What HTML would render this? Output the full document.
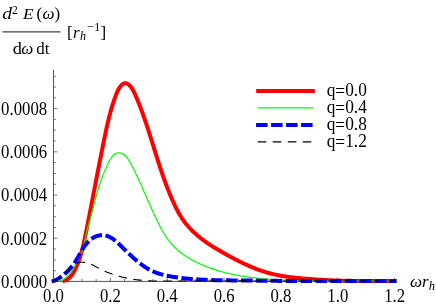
<!DOCTYPE html>
<html><head><meta charset="utf-8"><style>
html,body{margin:0;padding:0;background:#fff;}
svg{display:block;will-change:transform;}
text{font-family:"Liberation Serif",serif;font-size:17px;fill:#000;}
.i{font-style:italic;}
</style></head><body>
<svg width="436" height="306" viewBox="0 0 436 306">
<rect width="436" height="306" fill="#fff"/>
<!-- title -->
<g id="title">
<text id="t_d" transform="translate(2.2,18.5) scale(1.15,1.02)" class="i">d</text>
<text id="t_2" x="12.0" y="13.9" style="font-size:11.5px">2</text>
<text id="t_E" transform="translate(23.1,18.5) scale(1.12,1)" class="i" style="font-size:15.5px">E</text>
<text id="t_lp" x="36.6" y="18.5">(</text>
<text id="t_w" x="42.5" y="18.5" class="i">ω</text>
<text id="t_rp" x="54.5" y="18.5">)</text>
<line x1="2.5" y1="31.8" x2="60.5" y2="31.8" stroke="#444" stroke-width="1.2"/>
<text id="t_d1" transform="translate(12.7,54.4) scale(1.08,1)">d</text>
<text id="t_w1" x="21.3" y="54.4" class="i">ω</text>
<text id="t_dt" x="36.2" y="54.4">dt</text>
<text id="t_lb" x="67" y="37.5">[</text>
<text id="t_r" x="73" y="37.5" class="i">r</text>
<text id="t_h" x="80" y="39.8" class="i" style="font-size:12px">h</text>
<text id="t_m" x="86.8" y="30.8" style="font-size:12.5px">−</text>
<text id="t_1" x="94.2" y="30.5" style="font-size:12px">1</text>
<text id="t_rb" x="100.5" y="37.5">]</text>
</g>
<!-- axes -->
<g stroke="#555" stroke-width="1" fill="none">
<line x1="53.5" y1="69.8" x2="53.5" y2="281.9"/>
<line x1="53.0" y1="281.4" x2="395.2" y2="281.4"/>
</g>
<g stroke="#555" stroke-width="0.8" fill="none">
<line x1="53.50" y1="281.4" x2="53.50" y2="277.60"/>
<line x1="67.72" y1="281.4" x2="67.72" y2="279.00"/>
<line x1="81.93" y1="281.4" x2="81.93" y2="279.00"/>
<line x1="96.15" y1="281.4" x2="96.15" y2="279.00"/>
<line x1="110.36" y1="281.4" x2="110.36" y2="277.60"/>
<line x1="124.58" y1="281.4" x2="124.58" y2="279.00"/>
<line x1="138.79" y1="281.4" x2="138.79" y2="279.00"/>
<line x1="153.00" y1="281.4" x2="153.00" y2="279.00"/>
<line x1="167.22" y1="281.4" x2="167.22" y2="277.60"/>
<line x1="181.44" y1="281.4" x2="181.44" y2="279.00"/>
<line x1="195.65" y1="281.4" x2="195.65" y2="279.00"/>
<line x1="209.87" y1="281.4" x2="209.87" y2="279.00"/>
<line x1="224.08" y1="281.4" x2="224.08" y2="277.60"/>
<line x1="238.30" y1="281.4" x2="238.30" y2="279.00"/>
<line x1="252.51" y1="281.4" x2="252.51" y2="279.00"/>
<line x1="266.73" y1="281.4" x2="266.73" y2="279.00"/>
<line x1="280.94" y1="281.4" x2="280.94" y2="277.60"/>
<line x1="295.16" y1="281.4" x2="295.16" y2="279.00"/>
<line x1="309.37" y1="281.4" x2="309.37" y2="279.00"/>
<line x1="323.59" y1="281.4" x2="323.59" y2="279.00"/>
<line x1="337.80" y1="281.4" x2="337.80" y2="277.60"/>
<line x1="352.02" y1="281.4" x2="352.02" y2="279.00"/>
<line x1="366.23" y1="281.4" x2="366.23" y2="279.00"/>
<line x1="380.45" y1="281.4" x2="380.45" y2="279.00"/>
<line x1="394.66" y1="281.4" x2="394.66" y2="277.60"/>
<line x1="53.5" y1="281.50" x2="57.30" y2="281.50"/>
<line x1="53.5" y1="270.69" x2="55.90" y2="270.69"/>
<line x1="53.5" y1="259.89" x2="55.90" y2="259.89"/>
<line x1="53.5" y1="249.08" x2="55.90" y2="249.08"/>
<line x1="53.5" y1="238.28" x2="57.30" y2="238.28"/>
<line x1="53.5" y1="227.47" x2="55.90" y2="227.47"/>
<line x1="53.5" y1="216.67" x2="55.90" y2="216.67"/>
<line x1="53.5" y1="205.86" x2="55.90" y2="205.86"/>
<line x1="53.5" y1="195.06" x2="57.30" y2="195.06"/>
<line x1="53.5" y1="184.25" x2="55.90" y2="184.25"/>
<line x1="53.5" y1="173.45" x2="55.90" y2="173.45"/>
<line x1="53.5" y1="162.64" x2="55.90" y2="162.64"/>
<line x1="53.5" y1="151.84" x2="57.30" y2="151.84"/>
<line x1="53.5" y1="141.03" x2="55.90" y2="141.03"/>
<line x1="53.5" y1="130.23" x2="55.90" y2="130.23"/>
<line x1="53.5" y1="119.42" x2="55.90" y2="119.42"/>
<line x1="53.5" y1="108.62" x2="57.30" y2="108.62"/>
<line x1="53.5" y1="97.81" x2="55.90" y2="97.81"/>
<line x1="53.5" y1="87.01" x2="55.90" y2="87.01"/>
<line x1="53.5" y1="76.20" x2="55.90" y2="76.20"/>
</g>
<g id="xl">
<text transform="translate(53.50,301.6) scale(0.985,1.08)" text-anchor="middle">0.0</text>
<text transform="translate(110.36,301.6) scale(0.985,1.08)" text-anchor="middle">0.2</text>
<text transform="translate(167.22,301.6) scale(0.985,1.08)" text-anchor="middle">0.4</text>
<text transform="translate(224.08,301.6) scale(0.985,1.08)" text-anchor="middle">0.6</text>
<text transform="translate(280.94,301.6) scale(0.985,1.08)" text-anchor="middle">0.8</text>
<text transform="translate(337.80,301.6) scale(0.985,1.08)" text-anchor="middle">1.0</text>
<text transform="translate(394.66,301.6) scale(0.985,1.08)" text-anchor="middle">1.2</text>
</g>
<g id="yl">
<text transform="translate(47.2,287.75) scale(0.986,1.07)" text-anchor="end">0.0000</text>
<text transform="translate(47.2,244.53) scale(0.986,1.07)" text-anchor="end">0.0002</text>
<text transform="translate(47.2,201.31) scale(0.986,1.07)" text-anchor="end">0.0004</text>
<text transform="translate(47.2,158.09) scale(0.986,1.07)" text-anchor="end">0.0006</text>
<text transform="translate(47.2,114.87) scale(0.986,1.07)" text-anchor="end">0.0008</text>
</g>
<text id="t_wr" x="409.9" y="286.8" class="i">ωr</text>
<text id="t_wh" x="428.7" y="289.9" class="i" style="font-size:12.5px">h</text>
<!-- curves -->
<g fill="none" stroke-linecap="square" stroke-linejoin="round">
<path d="M62.71,281.00 L63.73,280.91 L64.71,280.61 L65.63,280.24 L66.51,279.82 L67.34,279.33 L68.13,278.79 L68.88,278.20 L69.59,277.56 L70.27,276.88 L70.92,276.16 L71.53,275.40 L72.11,274.61 L72.67,273.80 L73.20,272.96 L73.71,272.09 L74.20,271.22 L74.67,270.33 L75.12,269.43 L75.56,268.53 L75.99,267.62 L76.41,266.71 L76.81,265.79 L77.20,264.88 L77.58,263.96 L77.95,263.04 L78.31,262.11 L78.65,261.18 L78.99,260.25 L79.32,259.32 L79.64,258.39 L79.95,257.45 L80.25,256.51 L80.54,255.57 L80.83,254.63 L81.11,253.68 L81.37,252.73 L81.64,251.78 L81.89,250.83 L82.14,249.88 L82.39,248.93 L82.63,247.97 L82.86,247.01 L83.09,246.05 L83.31,245.09 L83.53,244.13 L83.75,243.17 L83.96,242.21 L84.17,241.25 L84.37,240.28 L84.57,239.32 L84.78,238.35 L84.97,237.38 L85.17,236.42 L85.37,235.45 L85.56,234.48 L85.76,233.51 L85.95,232.55 L86.15,231.58 L86.34,230.61 L86.53,229.64 L86.73,228.67 L86.92,227.70 L87.11,226.73 L87.31,225.76 L87.50,224.79 L87.69,223.82 L87.88,222.85 L88.07,221.88 L88.26,220.91 L88.45,219.94 L88.64,218.97 L88.83,218.00 L89.02,217.03 L89.21,216.06 L89.40,215.09 L89.59,214.12 L89.78,213.15 L89.97,212.18 L90.16,211.21 L90.35,210.24 L90.54,209.26 L90.73,208.29 L90.91,207.32 L91.10,206.35 L91.29,205.38 L91.48,204.41 L91.67,203.43 L91.85,202.46 L92.04,201.49 L92.23,200.52 L92.42,199.55 L92.60,198.58 L92.79,197.60 L92.98,196.63 L93.16,195.66 L93.35,194.69 L93.54,193.72 L93.72,192.74 L93.91,191.77 L94.10,190.80 L94.29,189.83 L94.47,188.85 L94.66,187.88 L94.85,186.91 L95.03,185.94 L95.22,184.97 L95.41,184.00 L95.59,183.02 L95.78,182.05 L95.97,181.08 L96.16,180.11 L96.34,179.14 L96.53,178.17 L96.72,177.19 L96.90,176.22 L97.09,175.25 L97.28,174.28 L97.47,173.31 L97.66,172.34 L97.84,171.37 L98.03,170.40 L98.22,169.42 L98.41,168.45 L98.60,167.48 L98.79,166.51 L98.98,165.54 L99.17,164.57 L99.35,163.60 L99.54,162.63 L99.73,161.66 L99.92,160.69 L100.11,159.72 L100.30,158.75 L100.50,157.79 L100.69,156.82 L100.88,155.85 L101.07,154.88 L101.26,153.91 L101.45,152.94 L101.65,151.97 L101.84,151.01 L102.03,150.04 L102.22,149.07 L102.42,148.10 L102.61,147.14 L102.81,146.17 L103.00,145.20 L103.20,144.24 L103.39,143.27 L103.59,142.30 L103.78,141.34 L103.98,140.37 L104.18,139.41 L104.37,138.44 L104.57,137.48 L104.77,136.51 L104.97,135.55 L105.17,134.59 L105.37,133.62 L105.57,132.66 L105.78,131.70 L105.98,130.73 L106.19,129.77 L106.40,128.81 L106.61,127.85 L106.82,126.89 L107.04,125.93 L107.26,124.97 L107.48,124.01 L107.70,123.05 L107.92,122.09 L108.15,121.13 L108.38,120.17 L108.61,119.21 L108.85,118.25 L109.09,117.30 L109.33,116.34 L109.58,115.39 L109.83,114.43 L110.08,113.47 L110.34,112.52 L110.60,111.57 L110.87,110.61 L111.14,109.66 L111.42,108.71 L111.70,107.76 L111.98,106.80 L112.27,105.85 L112.56,104.90 L112.86,103.95 L113.17,103.01 L113.48,102.06 L113.79,101.11 L114.11,100.16 L114.44,99.22 L114.77,98.27 L115.11,97.33 L115.45,96.38 L115.80,95.44 L116.16,94.50 L116.52,93.56 L116.91,92.62 L117.30,91.69 L117.73,90.78 L118.18,89.88 L118.67,89.00 L119.19,88.13 L119.76,87.30 L120.38,86.48 L121.04,85.70 L121.76,84.97 L122.52,84.32 L123.32,83.78 L124.13,83.39 L124.96,83.18 L125.80,83.18 L126.63,83.39 L127.46,83.77 L128.26,84.29 L129.03,84.92 L129.76,85.63 L130.45,86.38 L131.09,87.16 L131.68,87.97 L132.24,88.80 L132.75,89.65 L133.24,90.52 L133.71,91.41 L134.15,92.30 L134.57,93.21 L134.98,94.12 L135.38,95.03 L135.78,95.95 L136.18,96.87 L136.57,97.79 L136.95,98.71 L137.34,99.63 L137.72,100.55 L138.09,101.47 L138.47,102.39 L138.84,103.32 L139.20,104.24 L139.57,105.17 L139.93,106.10 L140.28,107.03 L140.64,107.95 L140.99,108.88 L141.34,109.81 L141.68,110.74 L142.03,111.68 L142.37,112.61 L142.71,113.54 L143.04,114.47 L143.37,115.41 L143.70,116.34 L144.03,117.28 L144.36,118.21 L144.68,119.15 L145.00,120.09 L145.32,121.02 L145.64,121.96 L145.96,122.90 L146.27,123.84 L146.58,124.78 L146.90,125.72 L147.20,126.66 L147.51,127.60 L147.82,128.54 L148.12,129.48 L148.43,130.42 L148.73,131.36 L149.03,132.30 L149.33,133.24 L149.63,134.19 L149.93,135.13 L150.23,136.07 L150.52,137.01 L150.82,137.95 L151.11,138.90 L151.41,139.84 L151.70,140.78 L151.99,141.72 L152.29,142.67 L152.58,143.61 L152.87,144.55 L153.16,145.49 L153.46,146.44 L153.75,147.38 L154.04,148.32 L154.33,149.26 L154.62,150.20 L154.92,151.15 L155.21,152.09 L155.50,153.03 L155.80,153.97 L156.09,154.91 L156.38,155.85 L156.68,156.79 L156.97,157.73 L157.27,158.67 L157.57,159.60 L157.87,160.54 L158.17,161.48 L158.47,162.42 L158.77,163.35 L159.07,164.29 L159.38,165.23 L159.68,166.16 L159.99,167.10 L160.30,168.03 L160.61,168.96 L160.92,169.90 L161.23,170.83 L161.55,171.76 L161.86,172.69 L162.18,173.62 L162.50,174.55 L162.82,175.48 L163.15,176.41 L163.48,177.34 L163.80,178.27 L164.14,179.19 L164.47,180.12 L164.80,181.05 L165.14,181.97 L165.48,182.90 L165.83,183.82 L166.17,184.75 L166.52,185.67 L166.87,186.59 L167.23,187.51 L167.59,188.44 L167.95,189.36 L168.31,190.28 L168.68,191.20 L169.05,192.12 L169.42,193.03 L169.80,193.95 L170.18,194.87 L170.56,195.79 L170.95,196.70 L171.34,197.62 L171.73,198.53 L172.13,199.45 L172.53,200.36 L172.93,201.28 L173.34,202.19 L173.76,203.10 L174.18,204.01 L174.60,204.91 L175.03,205.82 L175.47,206.72 L175.91,207.62 L176.35,208.51 L176.81,209.40 L177.27,210.29 L177.74,211.17 L178.21,212.04 L178.69,212.91 L179.18,213.78 L179.68,214.64 L180.19,215.49 L180.70,216.33 L181.23,217.17 L181.76,218.00 L182.31,218.82 L182.86,219.63 L183.42,220.43 L184.00,221.23 L184.58,222.01 L185.17,222.79 L185.78,223.56 L186.39,224.32 L187.01,225.07 L187.64,225.81 L188.28,226.54 L188.93,227.27 L189.59,227.99 L190.26,228.70 L190.93,229.40 L191.62,230.10 L192.31,230.78 L193.01,231.46 L193.71,232.14 L194.43,232.80 L195.15,233.46 L195.88,234.11 L196.61,234.76 L197.36,235.40 L198.11,236.03 L198.86,236.66 L199.62,237.27 L200.39,237.89 L201.17,238.49 L201.95,239.10 L202.73,239.69 L203.52,240.28 L204.32,240.87 L205.12,241.44 L205.93,242.02 L206.74,242.59 L207.55,243.15 L208.37,243.71 L209.20,244.26 L210.03,244.81 L210.86,245.36 L211.69,245.90 L212.53,246.43 L213.38,246.96 L214.22,247.49 L215.07,248.01 L215.92,248.53 L216.78,249.05 L217.64,249.56 L218.50,250.07 L219.36,250.57 L220.22,251.08 L221.09,251.58 L221.96,252.07 L222.83,252.57 L223.70,253.06 L224.57,253.54 L225.44,254.03 L226.31,254.51 L227.19,254.99 L228.06,255.47 L228.94,255.95 L229.81,256.42 L230.69,256.90 L231.56,257.36 L232.44,257.83 L233.32,258.30 L234.20,258.76 L235.08,259.22 L235.96,259.67 L236.84,260.12 L237.72,260.57 L238.60,261.02 L239.49,261.46 L240.37,261.90 L241.26,262.33 L242.15,262.76 L243.04,263.19 L243.93,263.61 L244.82,264.03 L245.71,264.44 L246.61,264.85 L247.50,265.25 L248.40,265.65 L249.30,266.05 L250.20,266.44 L251.10,266.82 L252.01,267.20 L252.91,267.57 L253.82,267.94 L254.73,268.30 L255.64,268.66 L256.55,269.01 L257.47,269.36 L258.39,269.70 L259.31,270.03 L260.23,270.36 L261.16,270.68 L262.08,270.99 L263.01,271.30 L263.94,271.60 L264.88,271.89 L265.81,272.18 L266.75,272.46 L267.70,272.73 L268.64,272.99 L269.59,273.25 L270.54,273.50 L271.49,273.74 L272.45,273.98 L273.40,274.20 L274.36,274.42 L275.33,274.64 L276.29,274.84 L277.26,275.04 L278.23,275.24 L279.20,275.42 L280.17,275.60 L281.15,275.78 L282.13,275.95 L283.11,276.11 L284.09,276.27 L285.07,276.42 L286.05,276.57 L287.04,276.72 L288.02,276.85 L289.01,276.99 L290.00,277.12 L290.98,277.24 L291.97,277.36 L292.96,277.48 L293.96,277.59 L294.95,277.70 L295.94,277.81 L296.93,277.91 L297.92,278.01 L298.92,278.10 L299.91,278.20 L300.90,278.29 L301.90,278.38 L302.89,278.46 L303.88,278.55 L304.88,278.63 L305.87,278.71 L306.86,278.79 L307.85,278.86 L308.84,278.94 L309.83,279.01 L310.82,279.09 L311.81,279.16 L312.79,279.23 L313.78,279.30 L314.76,279.37 L315.75,279.43 L316.73,279.50 L317.72,279.57 L318.70,279.63 L319.68,279.69 L320.66,279.75 L321.65,279.81 L322.63,279.87 L323.61,279.93 L324.59,279.99 L325.57,280.04 L326.55,280.09 L327.53,280.15 L328.51,280.20 L329.50,280.24 L330.48,280.29 L331.46,280.34 L332.44,280.38 L333.42,280.42 L334.40,280.46 L335.38,280.50 L336.37,280.54 L337.35,280.57 L338.33,280.61 L339.32,280.64 L340.30,280.67 L341.29,280.69 L342.27,280.72 L343.26,280.74 L344.25,280.76 L345.23,280.78 L346.22,280.80 L347.21,280.82 L348.20,280.84 L349.19,280.85 L350.18,280.86 L351.17,280.87 L352.16,280.88 L353.15,280.89 L354.14,280.90 L355.13,280.91 L356.12,280.91 L357.11,280.92 L358.10,280.92 L359.09,280.93 L360.09,280.93 L361.08,280.93 L362.07,280.93 L363.06,280.93 L364.05,280.93 L365.05,280.93 L366.04,280.93 L367.03,280.93 L368.02,280.93 L369.01,280.93 L370.01,280.93 L371.00,280.93 L371.99,280.93 L372.98,280.92 L373.97,280.92 L374.96,280.92 L375.95,280.92 L376.94,280.92 L377.93,280.92 L378.92,280.92 L379.91,280.92 L380.90,280.92 L381.89,280.92 L382.87,280.93 L383.86,280.93 L384.85,280.93 L385.83,280.94 L386.82,280.94 L387.80,280.95 L388.79,280.96 L389.77,280.97 L390.76,280.98 L391.74,280.99 L392.72,281.00 L393.70,281.00 L394.68,281.00" stroke="#f00" stroke-width="4" stroke-linecap="butt"/>
<path d="M59.50,281.00 L60.29,280.80 L61.07,280.51 L61.82,280.18 L62.55,279.83 L63.25,279.44 L63.94,279.03 L64.61,278.58 L65.26,278.11 L65.89,277.62 L66.50,277.10 L67.10,276.56 L67.68,276.00 L68.25,275.42 L68.80,274.82 L69.33,274.21 L69.85,273.59 L70.36,272.95 L70.86,272.30 L71.34,271.63 L71.81,270.97 L72.27,270.29 L72.73,269.61 L73.17,268.92 L73.60,268.23 L74.03,267.54 L74.44,266.84 L74.85,266.14 L75.25,265.43 L75.65,264.72 L76.04,264.01 L76.42,263.30 L76.80,262.58 L77.17,261.87 L77.54,261.15 L77.91,260.43 L78.27,259.71 L78.63,258.99 L78.99,258.27 L79.35,257.55 L79.70,256.84 L80.06,256.12 L80.41,255.40 L80.76,254.68 L81.09,253.96 L81.42,253.24 L81.73,252.50 L82.02,251.76 L82.30,251.02 L82.56,250.27 L82.81,249.51 L83.05,248.75 L83.27,247.98 L83.48,247.20 L83.69,246.43 L83.88,245.64 L84.06,244.86 L84.24,244.07 L84.41,243.28 L84.58,242.49 L84.74,241.69 L84.90,240.89 L85.05,240.09 L85.21,239.30 L85.36,238.50 L85.51,237.70 L85.66,236.90 L85.82,236.10 L85.98,235.30 L86.14,234.50 L86.31,233.71 L86.48,232.91 L86.66,232.12 L86.84,231.33 L87.03,230.55 L87.22,229.76 L87.42,228.97 L87.62,228.19 L87.82,227.41 L88.03,226.63 L88.24,225.84 L88.45,225.06 L88.67,224.28 L88.88,223.50 L89.10,222.72 L89.32,221.94 L89.54,221.16 L89.76,220.38 L89.98,219.60 L90.20,218.82 L90.42,218.04 L90.64,217.26 L90.86,216.47 L91.08,215.69 L91.30,214.90 L91.51,214.11 L91.73,213.32 L91.94,212.53 L92.15,211.74 L92.36,210.95 L92.57,210.16 L92.78,209.36 L92.99,208.57 L93.20,207.77 L93.40,206.98 L93.61,206.18 L93.82,205.38 L94.02,204.59 L94.23,203.79 L94.43,202.99 L94.64,202.20 L94.85,201.40 L95.05,200.61 L95.26,199.81 L95.47,199.02 L95.68,198.23 L95.89,197.43 L96.10,196.64 L96.31,195.85 L96.52,195.06 L96.74,194.28 L96.95,193.49 L97.17,192.71 L97.39,191.93 L97.61,191.14 L97.84,190.37 L98.06,189.59 L98.29,188.82 L98.52,188.04 L98.76,187.27 L98.99,186.51 L99.23,185.74 L99.47,184.98 L99.72,184.22 L99.96,183.47 L100.21,182.72 L100.47,181.97 L100.73,181.22 L100.99,180.48 L101.25,179.74 L101.52,179.00 L101.79,178.27 L102.07,177.54 L102.35,176.81 L102.64,176.08 L102.92,175.35 L103.22,174.62 L103.51,173.89 L103.81,173.16 L104.12,172.43 L104.43,171.69 L104.74,170.95 L105.06,170.21 L105.38,169.47 L105.70,168.72 L106.03,167.96 L106.37,167.20 L106.71,166.43 L107.05,165.66 L107.40,164.88 L107.75,164.09 L108.11,163.30 L108.48,162.51 L108.86,161.73 L109.26,160.96 L109.66,160.20 L110.08,159.46 L110.52,158.74 L110.97,158.04 L111.45,157.37 L111.95,156.73 L112.47,156.13 L113.01,155.56 L113.58,155.04 L114.18,154.56 L114.81,154.13 L115.47,153.76 L116.16,153.44 L116.86,153.19 L117.58,153.01 L118.32,152.90 L119.06,152.87 L119.80,152.92 L120.54,153.05 L121.27,153.25 L121.99,153.52 L122.69,153.86 L123.37,154.27 L124.02,154.73 L124.65,155.23 L125.26,155.78 L125.84,156.37 L126.38,156.98 L126.91,157.62 L127.41,158.28 L127.90,158.97 L128.36,159.67 L128.81,160.38 L129.25,161.11 L129.68,161.84 L130.10,162.57 L130.52,163.30 L130.93,164.03 L131.33,164.76 L131.73,165.49 L132.12,166.21 L132.51,166.94 L132.90,167.67 L133.27,168.39 L133.65,169.12 L134.02,169.85 L134.39,170.57 L134.75,171.30 L135.11,172.02 L135.47,172.75 L135.82,173.47 L136.17,174.19 L136.52,174.92 L136.86,175.64 L137.21,176.37 L137.55,177.09 L137.88,177.82 L138.22,178.54 L138.55,179.27 L138.88,180.00 L139.21,180.72 L139.54,181.45 L139.87,182.18 L140.20,182.91 L140.52,183.64 L140.85,184.37 L141.17,185.10 L141.50,185.84 L141.82,186.57 L142.15,187.30 L142.47,188.04 L142.79,188.78 L143.12,189.51 L143.44,190.25 L143.77,190.99 L144.09,191.73 L144.41,192.47 L144.74,193.21 L145.06,193.95 L145.39,194.70 L145.71,195.44 L146.04,196.18 L146.36,196.93 L146.69,197.67 L147.02,198.41 L147.34,199.16 L147.67,199.90 L148.00,200.65 L148.33,201.39 L148.66,202.14 L148.98,202.88 L149.31,203.63 L149.64,204.37 L149.98,205.12 L150.31,205.86 L150.64,206.61 L150.97,207.35 L151.31,208.10 L151.64,208.84 L151.98,209.58 L152.31,210.33 L152.65,211.07 L152.99,211.81 L153.33,212.55 L153.67,213.29 L154.01,214.03 L154.35,214.77 L154.70,215.51 L155.04,216.25 L155.39,216.99 L155.73,217.72 L156.08,218.46 L156.43,219.19 L156.78,219.93 L157.14,220.66 L157.49,221.39 L157.85,222.12 L158.21,222.84 L158.57,223.57 L158.93,224.29 L159.30,225.01 L159.67,225.73 L160.05,226.45 L160.42,227.17 L160.80,227.88 L161.19,228.59 L161.58,229.29 L161.97,230.00 L162.37,230.70 L162.77,231.40 L163.18,232.09 L163.59,232.78 L164.01,233.47 L164.43,234.16 L164.86,234.84 L165.29,235.51 L165.73,236.19 L166.18,236.86 L166.63,237.52 L167.09,238.18 L167.56,238.84 L168.03,239.49 L168.51,240.13 L169.00,240.78 L169.50,241.41 L170.00,242.04 L170.51,242.67 L171.03,243.29 L171.56,243.91 L172.09,244.52 L172.64,245.12 L173.19,245.72 L173.75,246.31 L174.32,246.89 L174.89,247.47 L175.47,248.04 L176.06,248.60 L176.66,249.15 L177.26,249.69 L177.87,250.23 L178.49,250.76 L179.11,251.28 L179.74,251.79 L180.37,252.30 L181.01,252.80 L181.66,253.29 L182.31,253.77 L182.96,254.25 L183.62,254.72 L184.29,255.18 L184.96,255.64 L185.64,256.09 L186.32,256.54 L187.01,256.98 L187.70,257.41 L188.39,257.83 L189.09,258.25 L189.79,258.66 L190.49,259.07 L191.20,259.47 L191.91,259.87 L192.63,260.26 L193.35,260.64 L194.07,261.02 L194.79,261.39 L195.52,261.76 L196.25,262.12 L196.98,262.48 L197.72,262.83 L198.45,263.18 L199.19,263.52 L199.93,263.86 L200.67,264.19 L201.41,264.52 L202.16,264.85 L202.90,265.17 L203.65,265.48 L204.40,265.79 L205.15,266.10 L205.90,266.40 L206.65,266.69 L207.41,266.99 L208.16,267.28 L208.92,267.56 L209.67,267.84 L210.43,268.11 L211.19,268.39 L211.96,268.65 L212.72,268.92 L213.48,269.17 L214.25,269.43 L215.01,269.68 L215.78,269.93 L216.55,270.17 L217.32,270.41 L218.09,270.64 L218.86,270.87 L219.64,271.10 L220.41,271.33 L221.19,271.55 L221.97,271.76 L222.74,271.98 L223.52,272.18 L224.30,272.39 L225.08,272.59 L225.86,272.79 L226.65,272.99 L227.43,273.18 L228.21,273.37 L229.00,273.55 L229.79,273.73 L230.57,273.91 L231.36,274.08 L232.15,274.26 L232.94,274.42 L233.73,274.59 L234.52,274.75 L235.32,274.91 L236.11,275.07 L236.90,275.22 L237.70,275.37 L238.49,275.52 L239.29,275.66 L240.08,275.80 L240.88,275.94 L241.68,276.08 L242.48,276.21 L243.28,276.34 L244.08,276.47 L244.88,276.59 L245.68,276.72 L246.48,276.84 L247.28,276.95 L248.09,277.07 L248.89,277.18 L249.69,277.29 L250.50,277.40 L251.30,277.50 L252.11,277.61 L252.91,277.71 L253.72,277.80 L254.53,277.90 L255.33,277.99 L256.14,278.08 L256.95,278.17 L257.76,278.26 L258.56,278.35 L259.37,278.43 L260.18,278.51 L260.99,278.59 L261.80,278.67 L262.61,278.74 L263.42,278.82 L264.23,278.89 L265.04,278.96 L265.85,279.03 L266.66,279.10 L267.47,279.16 L268.28,279.22 L269.10,279.29 L269.91,279.35 L270.72,279.41 L271.53,279.46 L272.34,279.52 L273.15,279.57 L273.96,279.63 L274.78,279.68 L275.59,279.73 L276.40,279.78 L277.21,279.83 L278.02,279.87 L278.83,279.92 L279.65,279.96 L280.46,280.01 L281.27,280.05 L282.08,280.09 L282.89,280.13 L283.70,280.17 L284.51,280.21 L285.32,280.24 L286.14,280.28 L286.95,280.32 L287.76,280.35 L288.57,280.38 L289.38,280.41 L290.19,280.45 L291.00,280.48 L291.81,280.51 L292.62,280.53 L293.43,280.56 L294.24,280.59 L295.05,280.61 L295.86,280.64 L296.67,280.66 L297.48,280.69 L298.29,280.71 L299.10,280.73 L299.91,280.75 L300.72,280.77 L301.53,280.79 L302.34,280.81 L303.15,280.82 L303.96,280.84 L304.77,280.86 L305.58,280.87 L306.39,280.89 L307.20,280.90 L308.01,280.91 L308.82,280.93 L309.63,280.94 L310.44,280.95 L311.25,280.96 L312.06,280.97 L312.87,280.98 L313.68,280.99 L314.49,281.00 L315.30,281.00 L316.11,281.00 L316.91,281.00 L317.72,281.00 L318.53,281.00 L319.34,281.00 L320.15,281.00 L320.96,281.00 L321.77,281.00 L322.58,281.00 L323.39,281.00 L324.20,281.00 L325.01,281.00 L325.82,281.00 L326.63,281.00 L327.44,281.00 L328.25,281.00 L329.05,281.00 L329.86,281.00 L330.67,281.00 L331.48,281.00 L332.29,281.00 L333.10,281.00 L333.91,281.00 L334.72,281.00 L335.53,281.00 L336.34,281.00 L337.15,281.00 L337.96,281.00 L338.77,281.00 L339.58,281.00 L340.39,281.00 L341.19,281.00 L342.00,281.00 L342.81,281.00 L343.62,281.00 L344.43,281.00 L345.24,281.00 L346.05,281.00 L346.86,281.00 L347.67,281.00 L348.48,281.00 L349.29,280.99 L350.10,280.99 L350.91,280.98 L351.72,280.98 L352.53,280.97 L353.34,280.97 L354.15,280.97 L354.96,280.96 L355.77,280.96 L356.58,280.95 L357.39,280.95 L358.20,280.95 L359.01,280.94 L359.82,280.94 L360.63,280.93 L361.44,280.93 L362.25,280.93 L363.06,280.93 L363.87,280.92 L364.68,280.92 L365.50,280.92 L366.31,280.92 L367.12,280.91 L367.93,280.91 L368.74,280.91 L369.55,280.91 L370.36,280.91 L371.17,280.91 L371.98,280.91 L372.79,280.91 L373.61,280.91 L374.42,280.91 L375.23,280.91 L376.04,280.92 L376.85,280.92 L377.66,280.92 L378.48,280.92 L379.29,280.93 L380.10,280.93 L380.91,280.94 L381.72,280.94 L382.54,280.95 L383.35,280.95 L384.16,280.96 L384.97,280.97 L385.79,280.97 L386.60,280.98 L387.41,280.99 L388.22,281.00 L389.04,281.00 L389.85,281.00 L390.66,281.00 L391.48,281.00 L392.29,281.00 L393.10,281.00 L393.92,281.00 L394.73,281.00" stroke="#0f0" stroke-width="1.2" stroke-linecap="butt"/>
<path d="M53.56,281.00 L54.13,280.89 L54.69,280.61 L55.25,280.33 L55.80,280.04 L56.35,279.74 L56.89,279.44 L57.43,279.12 L57.97,278.81 L58.50,278.48 L59.03,278.15 L59.55,277.81 L60.07,277.46 L60.58,277.11 L61.09,276.75 L61.60,276.38 L62.10,276.01 L62.59,275.63 L63.08,275.24 L63.57,274.85 L64.05,274.46 L64.53,274.05 L65.00,273.64 L65.47,273.23 L65.93,272.81 L66.39,272.38 L66.84,271.95 L67.29,271.52 L67.73,271.07 L68.17,270.63 L68.60,270.17 L69.03,269.72 L69.46,269.25 L69.88,268.79 L70.29,268.32 L70.70,267.84 L71.10,267.36 L71.50,266.87 L71.90,266.38 L72.29,265.89 L72.67,265.39 L73.05,264.89 L73.42,264.38 L73.79,263.87 L74.15,263.36 L74.51,262.84 L74.87,262.32 L75.21,261.79 L75.56,261.27 L75.89,260.73 L76.23,260.20 L76.56,259.66 L76.88,259.12 L77.20,258.58 L77.52,258.04 L77.84,257.49 L78.15,256.95 L78.46,256.40 L78.78,255.85 L79.09,255.30 L79.40,254.75 L79.71,254.21 L80.02,253.66 L80.33,253.11 L80.64,252.56 L80.95,252.02 L81.27,251.47 L81.59,250.93 L81.91,250.39 L82.23,249.86 L82.56,249.32 L82.89,248.79 L83.22,248.26 L83.57,247.73 L83.91,247.21 L84.26,246.69 L84.62,246.18 L84.98,245.67 L85.35,245.17 L85.73,244.67 L86.12,244.17 L86.51,243.69 L86.91,243.20 L87.32,242.73 L87.74,242.26 L88.17,241.80 L88.61,241.34 L89.06,240.90 L89.53,240.46 L90.00,240.04 L90.48,239.63 L90.98,239.24 L91.49,238.86 L92.01,238.49 L92.55,238.14 L93.09,237.81 L93.65,237.50 L94.21,237.20 L94.79,236.92 L95.37,236.66 L95.96,236.42 L96.55,236.20 L97.15,236.00 L97.76,235.82 L98.36,235.66 L98.97,235.52 L99.58,235.40 L100.19,235.30 L100.80,235.23 L101.41,235.18 L102.02,235.15 L102.62,235.15 L103.22,235.17 L103.81,235.22 L104.40,235.29 L104.99,235.38 L105.57,235.50 L106.14,235.64 L106.71,235.80 L107.28,235.98 L107.84,236.18 L108.39,236.40 L108.94,236.64 L109.49,236.90 L110.03,237.17 L110.57,237.46 L111.10,237.76 L111.63,238.08 L112.16,238.42 L112.68,238.76 L113.20,239.12 L113.71,239.50 L114.22,239.88 L114.73,240.27 L115.23,240.67 L115.73,241.08 L116.22,241.50 L116.72,241.93 L117.21,242.36 L117.69,242.80 L118.17,243.25 L118.65,243.70 L119.13,244.15 L119.61,244.61 L120.08,245.06 L120.55,245.52 L121.01,245.99 L121.48,246.45 L121.94,246.91 L122.40,247.36 L122.85,247.82 L123.31,248.27 L123.76,248.72 L124.21,249.17 L124.66,249.62 L125.10,250.06 L125.55,250.49 L125.99,250.93 L126.44,251.36 L126.88,251.79 L127.32,252.22 L127.77,252.64 L128.21,253.07 L128.65,253.49 L129.09,253.91 L129.53,254.32 L129.98,254.74 L130.42,255.15 L130.87,255.56 L131.32,255.98 L131.76,256.38 L132.21,256.79 L132.67,257.20 L133.12,257.61 L133.58,258.01 L134.03,258.42 L134.50,258.82 L134.96,259.22 L135.43,259.63 L135.90,260.03 L136.37,260.43 L136.85,260.83 L137.33,261.23 L137.81,261.63 L138.30,262.03 L138.79,262.42 L139.28,262.82 L139.77,263.21 L140.27,263.59 L140.77,263.98 L141.28,264.36 L141.79,264.74 L142.30,265.11 L142.81,265.48 L143.33,265.85 L143.85,266.21 L144.37,266.56 L144.89,266.92 L145.42,267.26 L145.95,267.61 L146.49,267.94 L147.03,268.27 L147.57,268.60 L148.11,268.91 L148.66,269.22 L149.21,269.53 L149.76,269.83 L150.32,270.12 L150.88,270.40 L151.44,270.67 L152.00,270.94 L152.57,271.20 L153.14,271.46 L153.71,271.70 L154.29,271.94 L154.86,272.18 L155.44,272.40 L156.03,272.63 L156.61,272.84 L157.20,273.05 L157.79,273.25 L158.38,273.45 L158.97,273.64 L159.56,273.83 L160.16,274.01 L160.76,274.18 L161.36,274.35 L161.96,274.52 L162.57,274.68 L163.17,274.84 L163.78,274.99 L164.39,275.14 L165.00,275.28 L165.61,275.42 L166.22,275.55 L166.83,275.68 L167.45,275.81 L168.06,275.94 L168.68,276.06 L169.29,276.17 L169.91,276.29 L170.53,276.40 L171.15,276.51 L171.77,276.61 L172.39,276.72 L173.01,276.82 L173.63,276.91 L174.25,277.01 L174.87,277.10 L175.49,277.20 L176.12,277.29 L176.74,277.37 L177.36,277.46 L177.98,277.54 L178.60,277.63 L179.23,277.71 L179.85,277.79 L180.47,277.87 L181.09,277.94 L181.72,278.02 L182.34,278.09 L182.96,278.16 L183.58,278.23 L184.21,278.30 L184.83,278.37 L185.45,278.43 L186.08,278.50 L186.70,278.56 L187.33,278.62 L187.95,278.68 L188.57,278.74 L189.20,278.79 L189.82,278.85 L190.44,278.90 L191.07,278.96 L191.69,279.01 L192.32,279.06 L192.94,279.11 L193.57,279.15 L194.19,279.20 L194.81,279.24 L195.44,279.29 L196.06,279.33 L196.69,279.37 L197.31,279.41 L197.94,279.45 L198.56,279.49 L199.19,279.53 L199.81,279.56 L200.44,279.60 L201.06,279.63 L201.69,279.66 L202.32,279.69 L202.94,279.72 L203.57,279.75 L204.19,279.78 L204.82,279.81 L205.44,279.84 L206.07,279.86 L206.69,279.89 L207.32,279.91 L207.95,279.94 L208.57,279.96 L209.20,279.98 L209.82,280.00 L210.45,280.02 L211.08,280.04 L211.70,280.06 L212.33,280.08 L212.96,280.09 L213.58,280.11 L214.21,280.13 L214.83,280.14 L215.46,280.16 L216.09,280.17 L216.71,280.18 L217.34,280.20 L217.97,280.21 L218.59,280.22 L219.22,280.23 L219.85,280.24 L220.47,280.25 L221.10,280.26 L221.73,280.27 L222.35,280.28 L222.98,280.29 L223.61,280.30 L224.23,280.31 L224.86,280.32 L225.49,280.32 L226.11,280.33 L226.74,280.34 L227.37,280.34 L228.00,280.35 L228.62,280.36 L229.25,280.36 L229.88,280.37 L230.50,280.37 L231.13,280.38 L231.76,280.38 L232.38,280.39 L233.01,280.39 L233.64,280.40 L234.26,280.40 L234.89,280.41 L235.52,280.41 L236.15,280.42 L236.77,280.42 L237.40,280.43 L238.03,280.43 L238.65,280.44 L239.28,280.44 L239.91,280.45 L240.53,280.45 L241.16,280.46 L241.79,280.46 L242.41,280.47 L243.04,280.47 L243.67,280.48 L244.30,280.49 L244.92,280.49 L245.55,280.50 L246.18,280.51 L246.80,280.51 L247.43,280.52 L248.06,280.53 L248.68,280.53 L249.31,280.54 L249.94,280.55 L250.56,280.55 L251.19,280.56 L251.82,280.57 L252.44,280.57 L253.07,280.58 L253.70,280.59 L254.32,280.60 L254.95,280.60 L255.58,280.61 L256.20,280.62 L256.83,280.63 L257.46,280.63 L258.08,280.64 L258.71,280.65 L259.34,280.66 L259.96,280.66 L260.59,280.67 L261.22,280.68 L261.84,280.69 L262.47,280.70 L263.10,280.70 L263.72,280.71 L264.35,280.72 L264.98,280.73 L265.60,280.73 L266.23,280.74 L266.86,280.75 L267.48,280.76 L268.11,280.77 L268.74,280.77 L269.36,280.78 L269.99,280.79 L270.62,280.80 L271.24,280.80 L271.87,280.81 L272.49,280.82 L273.12,280.83 L273.75,280.83 L274.37,280.84 L275.00,280.85 L275.63,280.85 L276.25,280.86 L276.88,280.87 L277.51,280.87 L278.13,280.88 L278.76,280.89 L279.39,280.89 L280.01,280.90 L280.64,280.91 L281.27,280.91 L281.89,280.92 L282.52,280.93 L283.15,280.93 L283.77,280.94 L284.40,280.94 L285.03,280.95 L285.65,280.95 L286.28,280.96 L286.91,280.97 L287.53,280.97 L288.16,280.98 L288.79,280.98 L289.41,280.98 L290.04,280.99 L290.67,280.99 L291.29,281.00 L291.92,281.00 L292.55,281.00 L293.17,281.00 L293.80,281.00 L294.43,281.00 L295.05,281.00 L295.68,281.00 L296.31,281.00 L296.93,281.00 L297.56,281.00 L298.18,281.00 L298.81,281.00 L299.44,281.00 L300.06,281.00 L300.69,281.00 L301.32,281.00 L301.94,281.00 L302.57,281.00 L303.20,281.00 L303.82,281.00 L304.45,281.00 L305.08,281.00 L305.71,281.00 L306.33,281.00 L306.96,281.00 L307.59,281.00 L308.21,281.00 L308.84,281.00 L309.47,281.00 L310.09,281.00 L310.72,281.00 L311.35,281.00 L311.97,281.00 L312.60,281.00 L313.23,281.00 L313.85,281.00 L314.48,281.00 L315.11,281.00 L315.73,281.00 L316.36,281.00 L316.99,281.00 L317.61,281.00 L318.24,281.00 L318.87,281.00 L319.49,281.00 L320.12,281.00 L320.75,281.00 L321.37,281.00 L322.00,281.00 L322.63,281.00 L323.25,281.00 L323.88,281.00 L324.51,281.00 L325.13,281.00 L325.76,281.00 L326.39,281.00 L327.01,281.00 L327.64,281.00 L328.27,281.00 L328.89,281.00 L329.52,281.00 L330.15,281.00 L330.77,281.00 L331.40,281.00 L332.03,281.00 L332.66,281.00 L333.28,281.00 L333.91,281.00 L334.54,281.00 L335.16,281.00 L335.79,281.00 L336.42,281.00 L337.04,281.00 L337.67,281.00 L338.30,281.00 L338.92,281.00 L339.55,281.00 L340.18,281.00 L340.80,281.00 L341.43,281.00 L342.06,281.00 L342.68,281.00 L343.31,281.00 L343.94,281.00 L344.56,281.00 L345.19,280.99 L345.82,280.99 L346.44,280.99 L347.07,280.99 L347.70,280.99 L348.32,280.99 L348.95,280.98 L349.58,280.98 L350.20,280.98 L350.83,280.98 L351.46,280.98 L352.08,280.98 L352.71,280.97 L353.34,280.97 L353.97,280.97 L354.59,280.97 L355.22,280.97 L355.85,280.97 L356.47,280.97 L357.10,280.96 L357.73,280.96 L358.35,280.96 L358.98,280.96 L359.61,280.96 L360.23,280.96 L360.86,280.96 L361.49,280.96 L362.11,280.96 L362.74,280.96 L363.37,280.95 L363.99,280.95 L364.62,280.95 L365.25,280.95 L365.87,280.95 L366.50,280.95 L367.13,280.95 L367.75,280.95 L368.38,280.95 L369.01,280.95 L369.63,280.95 L370.26,280.95 L370.89,280.95 L371.51,280.95 L372.14,280.95 L372.77,280.95 L373.39,280.95 L374.02,280.96 L374.65,280.96 L375.27,280.96 L375.90,280.96 L376.53,280.96 L377.15,280.96 L377.78,280.96 L378.41,280.96 L379.03,280.96 L379.66,280.97 L380.29,280.97 L380.91,280.97 L381.54,280.97 L382.17,280.97 L382.79,280.98 L383.42,280.98 L384.05,280.98 L384.67,280.98 L385.30,280.99 L385.93,280.99 L386.55,280.99 L387.18,281.00 L387.81,281.00 L388.43,281.00 L389.06,281.00 L389.69,281.00 L390.31,281.00 L390.94,281.00 L391.57,281.00 L392.19,281.00 L392.82,281.00 L393.45,281.00 L394.07,281.00 L394.70,281.00" stroke="#00f" stroke-width="4" stroke-dasharray="7.45 7.45"/>
<path d="M53.50,280.92 L54.08,280.76 L54.64,280.59 L55.19,280.39 L55.73,280.18 L56.26,279.95 L56.78,279.70 L57.29,279.44 L57.79,279.16 L58.28,278.87 L58.77,278.56 L59.24,278.24 L59.71,277.90 L60.17,277.56 L60.63,277.20 L61.08,276.83 L61.53,276.45 L61.97,276.06 L62.40,275.67 L62.83,275.26 L63.26,274.85 L63.69,274.43 L64.11,274.00 L64.54,273.57 L64.96,273.13 L65.38,272.69 L65.80,272.25 L66.22,271.80 L66.64,271.36 L67.06,270.91 L67.49,270.46 L67.91,270.01 L68.34,269.57 L68.77,269.13 L69.20,268.69 L69.63,268.26 L70.07,267.84 L70.50,267.42 L70.95,267.02 L71.39,266.62 L71.84,266.24 L72.30,265.86 L72.76,265.50 L73.22,265.16 L73.69,264.83 L74.17,264.52 L74.65,264.22 L75.13,263.94 L75.63,263.68 L76.13,263.45 L76.63,263.23 L77.15,263.04 L77.67,262.87 L78.19,262.72 L78.72,262.59 L79.26,262.48 L79.80,262.40 L80.35,262.33 L80.90,262.29 L81.46,262.26 L82.01,262.25 L82.57,262.26 L83.14,262.29 L83.70,262.34 L84.27,262.40 L84.83,262.48 L85.40,262.57 L85.97,262.68 L86.53,262.81 L87.10,262.95 L87.66,263.10 L88.23,263.27 L88.79,263.45 L89.34,263.65 L89.90,263.86 L90.45,264.07 L90.99,264.30 L91.54,264.54 L92.08,264.79 L92.61,265.05 L93.15,265.32 L93.68,265.59 L94.21,265.86 L94.74,266.14 L95.27,266.43 L95.80,266.71 L96.33,267.00 L96.85,267.29 L97.38,267.57 L97.91,267.86 L98.44,268.14 L98.97,268.41 L99.50,268.69 L100.03,268.96 L100.56,269.22 L101.10,269.49 L101.63,269.75 L102.17,270.00 L102.70,270.25 L103.24,270.50 L103.78,270.75 L104.32,270.99 L104.86,271.23 L105.40,271.47 L105.95,271.70 L106.49,271.93 L107.03,272.15 L107.58,272.38 L108.12,272.59 L108.67,272.81 L109.22,273.02 L109.77,273.23 L110.32,273.44 L110.87,273.64 L111.42,273.84 L111.97,274.04 L112.53,274.23 L113.08,274.42 L113.63,274.61 L114.19,274.79 L114.74,274.97 L115.30,275.15 L115.86,275.32 L116.42,275.49 L116.98,275.66 L117.54,275.83 L118.10,275.99 L118.66,276.15 L119.22,276.31 L119.78,276.46 L120.34,276.61 L120.91,276.76 L121.47,276.90 L122.04,277.05 L122.60,277.18 L123.17,277.32 L123.73,277.45 L124.30,277.58 L124.87,277.71 L125.44,277.84 L126.00,277.96 L126.57,278.08 L127.14,278.19 L127.71,278.31 L128.28,278.42 L128.85,278.53 L129.43,278.63 L130.00,278.74 L130.57,278.84 L131.14,278.93 L131.72,279.03 L132.29,279.12 L132.86,279.21 L133.44,279.30 L134.01,279.38 L134.59,279.47 L135.17,279.55 L135.74,279.62 L136.32,279.70 L136.89,279.77 L137.47,279.84 L138.05,279.91 L138.63,279.98 L139.20,280.04 L139.78,280.10 L140.36,280.16 L140.94,280.22 L141.52,280.28 L142.10,280.33 L142.68,280.38 L143.26,280.43 L143.84,280.48 L144.42,280.52 L145.00,280.57 L145.58,280.61 L146.17,280.65 L146.75,280.69 L147.33,280.72 L147.91,280.76 L148.50,280.79 L149.08,280.82 L149.66,280.85 L150.24,280.88 L150.83,280.91 L151.41,280.93 L152.00,280.96 L152.58,280.98 L153.16,281.00 L153.75,281.00 L154.33,281.00 L154.92,281.00 L155.50,281.00 L156.09,281.00 L156.68,281.00 L157.26,281.00 L157.85,281.00 L158.43,281.00 L159.02,281.00 L159.61,281.00 L160.19,281.00 L160.78,281.00 L161.37,281.00 L161.95,281.00 L162.54,281.00 L163.13,281.00 L163.71,281.00 L164.30,281.00 L164.89,281.00 L165.48,281.00 L166.06,281.00 L166.65,281.00 L167.24,281.00 L167.83,281.00 L168.41,281.00 L169.00,281.00 L169.59,281.00 L170.18,281.00 L170.77,281.00 L171.35,281.00 L171.94,281.00 L172.53,281.00 L173.12,281.00 L173.71,281.00 L174.29,281.00 L174.88,281.00 L175.47,281.00 L176.06,281.00 L176.65,281.00 L177.23,281.00 L177.82,281.00 L178.41,281.00 L179.00,281.00 L179.58,281.00 L180.17,281.00 L180.76,281.00 L181.35,281.00 L181.94,281.00 L182.52,281.00 L183.11,281.00 L183.70,281.00 L184.29,281.00 L184.87,281.00 L185.46,281.00 L186.05,281.00 L186.64,281.00 L187.22,281.00 L187.81,281.00 L188.40,281.00 L188.99,281.00 L189.57,281.00 L190.16,281.00 L190.75,281.00 L191.34,281.00 L191.92,281.00 L192.51,281.00 L193.10,281.00 L193.69,281.00 L194.27,281.00 L194.86,281.00 L195.45,281.00 L196.03,281.00 L196.62,281.00 L197.21,281.00 L197.80,281.00 L198.38,281.00 L198.97,281.00 L199.56,281.00 L200.14,280.99 L200.73,280.99 L201.32,280.99 L201.91,280.99 L202.49,280.99 L203.08,280.98 L203.67,280.98 L204.25,280.98 L204.84,280.98 L205.43,280.97 L206.01,280.97 L206.60,280.97 L207.19,280.97 L207.77,280.97 L208.36,280.96 L208.95,280.96 L209.54,280.96 L210.12,280.96 L210.71,280.96 L211.30,280.96 L211.88,280.95 L212.47,280.95 L213.06,280.95 L213.64,280.95 L214.23,280.95 L214.82,280.95 L215.40,280.94 L215.99,280.94 L216.57,280.94 L217.16,280.94 L217.75,280.94 L218.33,280.94 L218.92,280.94 L219.51,280.94 L220.09,280.93 L220.68,280.93 L221.27,280.93 L221.85,280.93 L222.44,280.93 L223.03,280.93 L223.61,280.93 L224.20,280.93 L224.78,280.93 L225.37,280.93 L225.96,280.93 L226.54,280.93 L227.13,280.92 L227.72,280.92 L228.30,280.92 L228.89,280.92 L229.47,280.92 L230.06,280.92 L230.65,280.92 L231.23,280.92 L231.82,280.92 L232.41,280.92 L232.99,280.92 L233.58,280.92 L234.16,280.92 L234.75,280.92 L235.34,280.92 L235.92,280.92 L236.51,280.92 L237.09,280.92 L237.68,280.92 L238.27,280.92 L238.85,280.92 L239.44,280.92 L240.02,280.92 L240.61,280.92 L241.20,280.92 L241.78,280.92 L242.37,280.92 L242.95,280.92 L243.54,280.92 L244.13,280.92 L244.71,280.92 L245.30,280.92 L245.88,280.92 L246.47,280.92 L247.06,280.92 L247.64,280.92 L248.23,280.92 L248.81,280.92 L249.40,280.92 L249.98,280.92 L250.57,280.92 L251.16,280.92 L251.74,280.92 L252.33,280.92 L252.91,280.92 L253.50,280.93 L254.09,280.93 L254.67,280.93 L255.26,280.93 L255.84,280.93 L256.43,280.93 L257.01,280.93 L257.60,280.93 L258.19,280.93 L258.77,280.93 L259.36,280.93 L259.94,280.93 L260.53,280.93 L261.11,280.93 L261.70,280.94 L262.28,280.94 L262.87,280.94 L263.46,280.94 L264.04,280.94 L264.63,280.94 L265.21,280.94 L265.80,280.94 L266.38,280.94 L266.97,280.94 L267.56,280.94 L268.14,280.95 L268.73,280.95 L269.31,280.95 L269.90,280.95 L270.48,280.95 L271.07,280.95 L271.65,280.95 L272.24,280.95 L272.83,280.95 L273.41,280.95 L274.00,280.96 L274.58,280.96 L275.17,280.96 L275.75,280.96 L276.34,280.96 L276.92,280.96 L277.51,280.96 L278.10,280.96 L278.68,280.96 L279.27,280.97 L279.85,280.97 L280.44,280.97 L281.02,280.97 L281.61,280.97 L282.19,280.97 L282.78,280.97 L283.37,280.97 L283.95,280.97 L284.54,280.98 L285.12,280.98 L285.71,280.98 L286.29,280.98 L286.88,280.98 L287.46,280.98 L288.05,280.98 L288.63,280.98 L289.22,280.99 L289.81,280.99 L290.39,280.99 L290.98,280.99 L291.56,280.99 L292.15,280.99 L292.73,280.99 L293.32,280.99 L293.90,280.99 L294.49,281.00 L295.08,281.00 L295.66,281.00 L296.25,281.00 L296.83,281.00 L297.42,281.00 L298.00,281.00 L298.59,281.00 L299.17,281.00 L299.76,281.00 L300.35,281.00 L300.93,281.00 L301.52,281.00 L302.10,281.00 L302.69,281.00 L303.27,281.00 L303.86,281.00 L304.44,281.00 L305.03,281.00 L305.62,281.00 L306.20,281.00 L306.79,281.00 L307.37,281.00 L307.96,281.00 L308.54,281.00 L309.13,281.00 L309.71,281.00 L310.30,281.00 L310.89,281.00 L311.47,281.00 L312.06,281.00 L312.64,281.00 L313.23,281.00 L313.81,281.00 L314.40,281.00 L314.98,281.00 L315.57,281.00 L316.16,281.00 L316.74,281.00 L317.33,281.00 L317.91,281.00 L318.50,281.00 L319.08,281.00 L319.67,281.00 L320.26,281.00 L320.84,281.00 L321.43,281.00 L322.01,281.00 L322.60,281.00 L323.18,281.00 L323.77,281.00 L324.36,281.00 L324.94,281.00 L325.53,281.00 L326.11,281.00 L326.70,281.00 L327.28,281.00 L327.87,281.00 L328.46,281.00 L329.04,281.00 L329.63,281.00 L330.21,281.00 L330.80,281.00 L331.38,281.00 L331.97,281.00 L332.56,281.00 L333.14,281.00 L333.73,281.00 L334.31,281.00 L334.90,281.00 L335.49,281.00 L336.07,281.00 L336.66,281.00 L337.24,281.00 L337.83,281.00 L338.42,281.00 L339.00,281.00 L339.59,281.00 L340.17,281.00 L340.76,281.00 L341.35,281.00 L341.93,281.00 L342.52,281.00 L343.10,281.00 L343.69,281.00 L344.28,281.00 L344.86,281.00 L345.45,281.00 L346.03,281.00 L346.62,281.00 L347.21,281.00 L347.79,281.00 L348.38,281.00 L348.96,281.00 L349.55,281.00 L350.14,281.00 L350.72,281.00 L351.31,281.00 L351.90,281.00 L352.48,281.00 L353.07,281.00 L353.65,281.00 L354.24,281.00 L354.83,281.00 L355.41,281.00 L356.00,281.00 L356.59,281.00 L357.17,281.00 L357.76,281.00 L358.34,281.00 L358.93,281.00 L359.52,281.00 L360.10,281.00 L360.69,281.00 L361.28,281.00 L361.86,281.00 L362.45,281.00 L363.04,281.00 L363.62,281.00 L364.21,281.00 L364.80,281.00 L365.38,281.00 L365.97,281.00 L366.56,281.00 L367.14,281.00 L367.73,281.00 L368.32,281.00 L368.90,281.00 L369.49,281.00 L370.08,281.00 L370.66,281.00 L371.25,281.00 L371.84,281.00 L372.42,281.00 L373.01,281.00 L373.60,281.00 L374.18,281.00 L374.77,281.00 L375.36,281.00 L375.94,281.00 L376.53,281.00 L377.12,281.00 L377.71,281.00 L378.29,281.00 L378.88,281.00 L379.47,280.99 L380.05,280.99 L380.64,280.99 L381.23,280.99 L381.81,280.98 L382.40,280.98 L382.99,280.98 L383.58,280.98 L384.16,280.97 L384.75,280.97 L385.34,280.97 L385.93,280.96 L386.51,280.96 L387.10,280.96 L387.69,280.96 L388.27,280.95 L388.86,280.95 L389.45,280.95 L390.04,280.94 L390.62,280.94 L391.21,280.94 L391.80,280.93 L392.39,280.93 L392.97,280.93 L393.56,280.92 L394.15,280.92 L394.74,280.92" stroke="#000" stroke-width="1.1" stroke-dasharray="7.5 7.5"/>
<!-- legend -->
<line x1="258.2" y1="91" x2="312.8" y2="91" stroke="#f00" stroke-width="4"/>
<line x1="258.5" y1="107.9" x2="312.8" y2="107.9" stroke="#0f0" stroke-width="1.2"/>
<line x1="258.1" y1="124.9" x2="313.5" y2="124.9" stroke="#00f" stroke-width="4" stroke-dasharray="7.5 7.5"/>
<line x1="258.3" y1="141.9" x2="313.5" y2="141.9" stroke="#000" stroke-width="1.1" stroke-dasharray="7.5 7.5"/>
</g>
<g id="leg">
<text transform="translate(326.7,95.7) scale(1.02,1.05)">q<tspan dy="1.4">=</tspan><tspan dy="-1.4">0.0</tspan></text>
<text transform="translate(326.7,112.7) scale(1.02,1.05)">q<tspan dy="1.4">=</tspan><tspan dy="-1.4">0.4</tspan></text>
<text transform="translate(326.7,129.7) scale(1.02,1.05)">q<tspan dy="1.4">=</tspan><tspan dy="-1.4">0.8</tspan></text>
<text transform="translate(326.7,146.7) scale(1.02,1.05)">q<tspan dy="1.4">=</tspan><tspan dy="-1.4">1.2</tspan></text>
</g>
</svg>
</body></html>
